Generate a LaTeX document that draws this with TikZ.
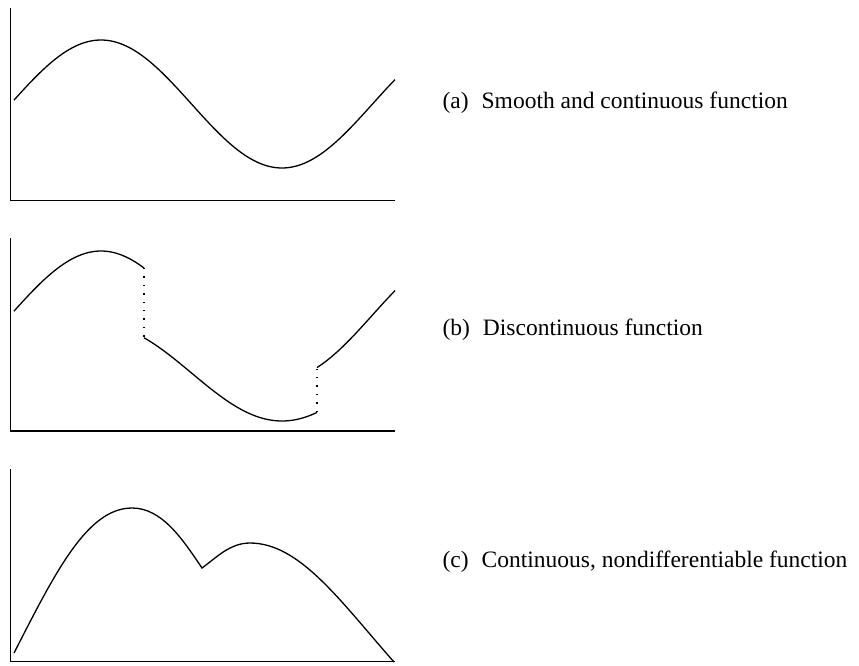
\documentclass[tikz,border=0pt]{standalone}
\usepackage{fontspec}
\setmainfont{Liberation Serif}
\begin{document}
\begin{tikzpicture}[x=1pt, y=-1pt, line width=1.3pt,
    every node/.style={font=\fontsize{23.5}{28}\selectfont, anchor=west, inner sep=0pt},
    axis/.style={line width=1.4pt},
    gap/.style={line width=1.4pt, dash pattern=on 1.4pt off 7pt}]
  \useasboundingbox (0,0) rectangle (859,665);
  % (a) smooth
  \draw[axis] (10.5,8) -- (10.5,200.5) -- (395,200.5);
  \draw plot[domain=14:395, samples=120] (\x, {104-64*cos((\x-101)/181*180)});
  \node (labA) at (442,103) {(a)\hspace{0.55em}Smooth and continuous function};
  % (b) jumps
  \draw[axis] (10.5,238) -- (10.5,431) -- (395,431);
  \draw plot[domain=14:144, samples=50] (\x, {315-64*cos((\x-101)/181*180)});
  \draw plot[domain=144:317, samples=60] (\x, {421-48*(1-cos((\x-282)/181*180))});
  \draw plot[domain=317:395, samples=30] (\x, {315-64*cos((\x-101)/181*180)});
  \coordinate (jumpA) at (144,268);
  \coordinate (landA) at (144,338);
  \coordinate (jumpB) at (317,412);
  \coordinate (landB) at (317,368);
  \draw[gap] (jumpA) -- (landA);
  \draw[gap] (jumpB) -- (landB);
  \node (labB) at (442,330) {(b)\hspace{0.55em}Discontinuous function};
  % (c) kink
  \draw[axis] (10.5,469) -- (10.5,661.5) -- (395,661.5);
  \coordinate (peakA) at (132,508);
  \coordinate (kink) at (202,568);
  \coordinate (peakB) at (250,543);
  \draw (14,653) .. controls (55,573) and (87,508) .. (peakA)
        .. controls (162,508) and (182.4,539) .. (kink)
        .. controls (216.6,557.4) and (230,543) .. (peakB)
        .. controls (300,543) and (341,602) .. (394,662);
  \node (labC) at (442,562) {(c)\hspace{0.55em}Continuous, nondifferentiable function};
\end{tikzpicture}
\end{document}
